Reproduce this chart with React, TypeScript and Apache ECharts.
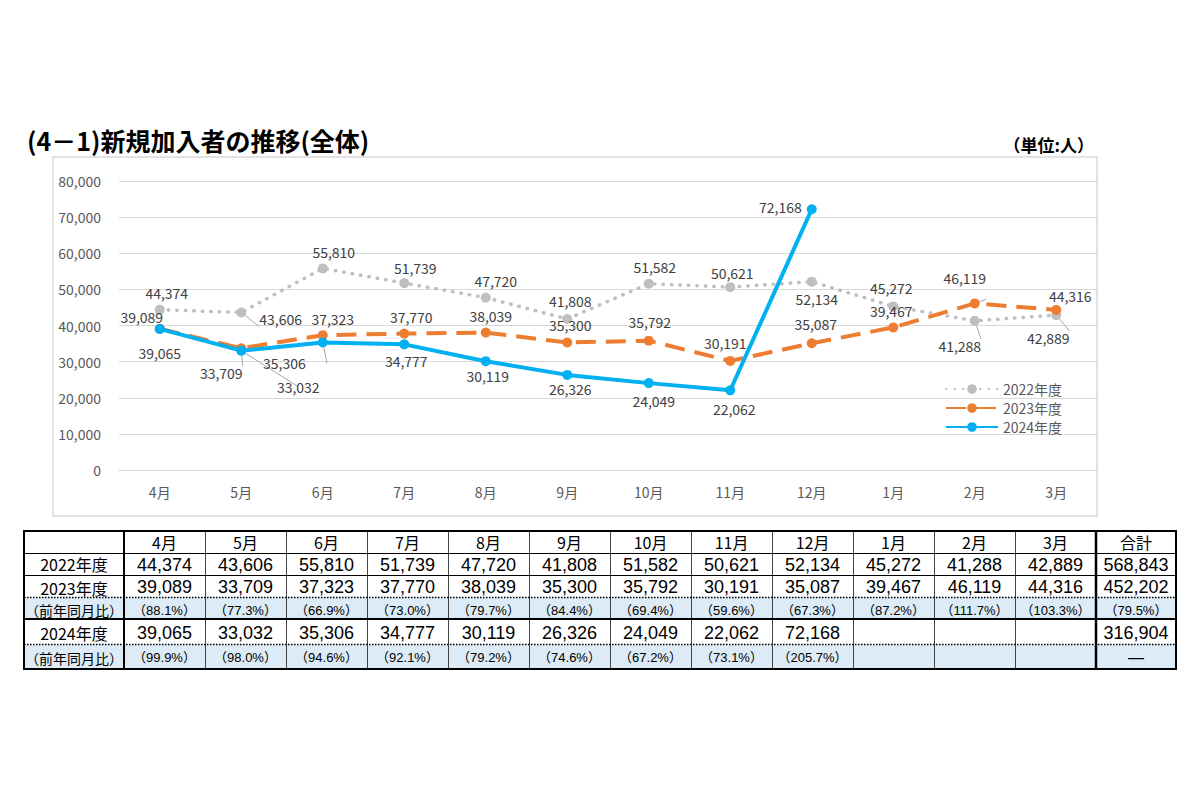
import React, { useEffect, useRef } from "react";
import * as echarts from "echarts";

const months = ["4月", "5月", "6月", "7月", "8月", "9月", "10月", "11月", "12月", "1月", "2月", "3月"];
const seriesNames = ["2022年度", "2023年度", "2024年度"];
const fy2022 = [44374, 43606, 55810, 51739, 47720, 41808, 51582, 50621, 52134, 45272, 41288, 42889];
const fy2023 = [39089, 33709, 37323, 37770, 38039, 35300, 35792, 30191, 35087, 39467, 46119, 44316];
const fy2024 = [39065, 33032, 35306, 34777, 30119, 26326, 24049, 22062, 72168];
const ratio2023 = ["88.1", "77.3", "66.9", "73.0", "79.7", "84.4", "69.4", "59.6", "67.3", "87.2", "111.7", "103.3"];
const ratio2024 = ["99.9", "98.0", "94.6", "92.1", "79.2", "74.6", "67.2", "73.1", "205.7"];
const total2022 = 568843;
const total2023 = 452202;
const totalRatio2023 = "79.5";
const total2024 = 316904;
const totalRatio2024 = "—";
const titleText = "(4－1)新規加入者の推移(全体)";
const unitText = "（単位:人）";
const ratioLabel = "（前年同月比）";
const totalLabel = "合計";

const FONT = "'Noto Sans CJK JP', 'Noto Sans', sans-serif";
const TFONT = "'Liberation Sans', 'Noto Sans CJK JP', sans-serif";
const fmt = (v: number) => v.toLocaleString("en-US");

// label placement: [position, dx, dy, leader]
type LP = [string, number, number, boolean?];
const lp2022: LP[] = [
  ["top", 7, 0], ["right", 8, 7, true], ["top", 11, 1], ["top", 11, 2], ["top", 10, 0], ["top", 3, -1],
  ["top", 6, 0], ["top", 2, 3], ["bottom", 5, 0], ["top", -2, -1], ["bottom", -15, 8, true], ["bottom", -8, 6, true],
];
const lp2023: LP[] = [
  ["top", -18, 5], ["bottom", -20, 8, true], ["top", 10, 1], ["top", 7, 0], ["top", 5, 0], ["top", 3, 0],
  ["top", 1, -2], ["top", -5, -1], ["top", 4, -2], ["top", -2, 1], ["top", -10, -8, true], ["top", 14, 3],
];
const lp2024: LP[] = [
  ["bottom", 0, 7], ["bottom", 57, 19, true], ["left", -7, 21, true], ["bottom", 2, 0], ["bottom", 2, -2],
  ["bottom", 3, -3], ["bottom", 5, 1], ["bottom", 4, 2], ["left", 0, -2],
];

function withLabels(vals: number[], lp: LP[]) {
  return vals.map((v, i) => ({
    value: v,
    label: { position: lp[i][0], offset: [lp[i][1], lp[i][2]] },
    labelLine: { show: !!lp[i][3], lineStyle: { color: "#A6A6A6", width: 1 } },
  }));
}

function buildTable() {
  const els: any[] = [];
  const left = 24;
  const labelRight = 124;
  const colW = 81;
  const totalLeft = labelRight + colW * 12;
  const right = totalLeft + 80;
  const rows = [531, 553, 575, 597, 619, 644, 669];
  const top = rows[0];
  const bottom = rows[rows.length - 1];
  const bg = "#DDEBF7";
  [3, 5].forEach((r) => {
    els.push({ type: "rect", shape: { x: left, y: rows[r], width: right - left, height: rows[r + 1] - rows[r] }, style: { fill: bg }, z: 1 });
  });
  const cellText = (text: string, cx: number, r: number, size: number, dy = 0, family = TFONT) => {
    els.push({
      type: "text",
      x: cx,
      y: (rows[r] + rows[r + 1]) / 2 + 1 + dy,
      style: { text, fill: "#000", font: `${size}px ${family}`, textAlign: "center", textVerticalAlign: "middle" },
      z: 5,
    });
  };
  const colCenter = (i: number) => labelRight + colW * i + colW / 2;
  const totalCenter = (totalLeft + right) / 2;
  const labelCenter = (left + labelRight) / 2;
  months.forEach((m, i) => cellText(m, colCenter(i), 0, 16, -1, FONT));
  cellText(totalLabel, totalCenter, 0, 16, -1, FONT);
  cellText(seriesNames[0], labelCenter, 1, 16, -1.5, FONT);
  cellText(seriesNames[1], labelCenter, 2, 16, 0.5, FONT);
  cellText(ratioLabel, labelCenter, 3, 14, 1, FONT);
  cellText(seriesNames[2], labelCenter, 4, 16, 0, FONT);
  cellText(ratioLabel, labelCenter, 5, 14, 0, FONT);
  fy2022.forEach((v, i) => cellText(fmt(v), colCenter(i), 1, 18));
  fy2023.forEach((v, i) => cellText(fmt(v), colCenter(i), 2, 18));
  ratio2023.forEach((v, i) => cellText(`（${v}%）`, colCenter(i), 3, 13, 1));
  fy2024.forEach((v, i) => cellText(fmt(v), colCenter(i), 4, 18));
  ratio2024.forEach((v, i) => cellText(`（${v}%）`, colCenter(i), 5, 13));
  cellText(fmt(total2022), totalCenter, 1, 18);
  cellText(fmt(total2023), totalCenter, 2, 18);
  cellText(`（${totalRatio2023}%）`, totalCenter, 3, 13, 1);
  cellText(fmt(total2024), totalCenter, 4, 18);
  cellText(totalRatio2024, totalCenter, 5, 16);

  const line = (x1: number, y1: number, x2: number, y2: number, w: number, dash?: number[], color = "#000") => {
    els.push({ type: "line", shape: { x1, y1, x2, y2 }, style: { stroke: color, lineWidth: w, lineDash: dash }, z: 6 });
  };
  for (let i = 1; i < 12; i++) {
    const x = labelRight + colW * i + 0.5;
    line(x, top, x, bottom, 1, undefined, "#444");
  }
  line(labelRight, top, labelRight, bottom, 2);
  line(totalLeft, top, totalLeft, bottom, 2.5);
  line(left, rows[1] + 0.5, right, rows[1] + 0.5, 1);
  line(left, rows[2] + 0.5, right, rows[2] + 0.5, 1);
  line(left, rows[3] + 0.5, right, rows[3] + 0.5, 1.5, [1.5, 1.5]);
  line(left, rows[4], right, rows[4], 2);
  line(left, rows[5] + 0.5, right, rows[5] + 0.5, 1.5, [1.5, 1.5]);
  els.push({ type: "rect", shape: { x: left, y: top, width: right - left, height: bottom - top }, style: { fill: "none", stroke: "#000", lineWidth: 2 }, z: 7 });
  return els;
}

export default function App() {
  const ref = useRef<HTMLDivElement>(null);
  useEffect(() => {
    if (!ref.current) return;
    const chart = echarts.init(ref.current, null, { renderer: "svg" });
    const labelBase = { show: true, color: "#404040", fontSize: 14, fontFamily: FONT, formatter: (p: any) => fmt(p.value) };
    const option: any = {
      animation: false,
      backgroundColor: "#fff",
      textStyle: { fontFamily: FONT },
      grid: { left: 119, right: 103, top: 181, bottom: 330 },
      xAxis: {
        type: "category",
        data: months,
        boundaryGap: true,
        axisTick: { show: false },
        axisLine: { lineStyle: { color: "#D9D9D9" } },
        axisLabel: { color: "#595959", fontSize: 14, margin: 15, fontFamily: FONT },
      },
      yAxis: {
        type: "value",
        min: 0,
        max: 80000,
        interval: 10000,
        axisLine: { show: false },
        axisTick: { show: false },
        splitLine: { lineStyle: { color: "#D9D9D9", width: 1 } },
        axisLabel: { color: "#595959", fontSize: 14, margin: 18, fontFamily: FONT, formatter: (v: number) => fmt(v) },
      },
      legend: {
        orient: "vertical",
        left: 940,
        top: 377,
        itemGap: 5,
        itemWidth: 52,
        itemHeight: 12,
        textStyle: { color: "#595959", fontSize: 14, fontFamily: FONT },
        data: seriesNames,
      },
      series: [
        {
          name: seriesNames[0],
          type: "line",
          data: withLabels(fy2022, lp2022),
          symbol: "circle",
          symbolSize: 10,
          itemStyle: { color: "#BFBFBF" },
          lineStyle: { color: "#BFBFBF", width: 3.5, type: [0.5, 8], cap: "round" },
          label: labelBase,
          z: 2,
        },
        {
          name: seriesNames[1],
          type: "line",
          data: withLabels(fy2023, lp2023),
          symbol: "circle",
          symbolSize: 10,
          itemStyle: { color: "#ED7D31" },
          lineStyle: { color: "#ED7D31", width: 4, type: [20, 10] },
          label: labelBase,
          z: 3,
        },
        {
          name: seriesNames[2],
          type: "line",
          data: withLabels(fy2024, lp2024),
          symbol: "circle",
          symbolSize: 10,
          itemStyle: { color: "#00B0F0" },
          lineStyle: { color: "#00B0F0", width: 4 },
          label: labelBase,
          z: 4,
        },
      ],
      graphic: [
        { type: "rect", shape: { x: 53, y: 157, width: 1044, height: 359 }, style: { fill: "none", stroke: "#D9D9D9", lineWidth: 1.5 }, z: -1, silent: true },
        { type: "text", x: 27, y: 140, style: { text: titleText, font: `bold 25px ${FONT}`, fill: "#000", textVerticalAlign: "middle" } },
        { type: "text", x: 1094, y: 144, style: { text: unitText, font: `bold 17px ${FONT}`, fill: "#000", textAlign: "right", textVerticalAlign: "middle" } },
        ...buildTable(),
      ],
    };
    chart.setOption(option);
    return () => chart.dispose();
  }, []);
  return <div ref={ref} style={{ position: "absolute", left: 0, top: 0, width: 1200, height: 800 }} />;
}
